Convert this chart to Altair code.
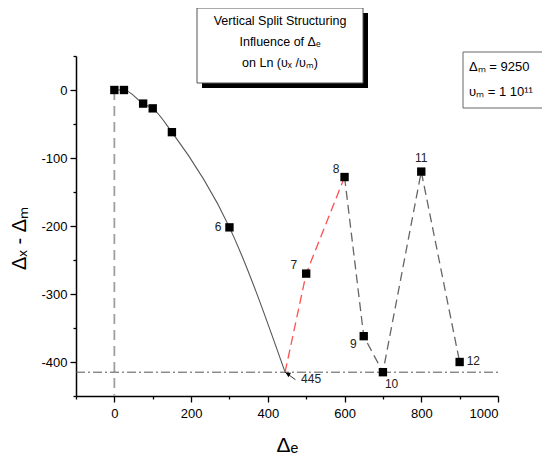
import altair as alt
import pandas as pd

FONT = "Liberation Sans"

# ---- data ----
delta_e = [0, 25, 75, 100, 150, 300, 500, 600, 650, 700, 800, 900]
diff = [0, 0, -20, -27, -62, -202, -270, -128, -362, -415, -120, -400]
point_labels = ["", "", "", "", "", "6", "7", "8", "9", "10", "11", "12"]

curve_x = [0, 25, 75, 100, 150, 300, 445]
curve_y = [0, 0, -20, -27, -62, -202, -415]
red_x = [445, 500, 600]
red_y = [-415, -270, -128]
gray_x = [600, 650, 700, 800, 900]
gray_y = [-128, -362, -415, -120, -400]

min_x = 445
min_y = -415
min_label = "445"
arrow_x = [445, 472]
arrow_y = [-415, -426]

x_ticks = list(range(-100, 1001, 100))
y_ticks = list(range(-450, 51, 50))

title_lines = ["Vertical Split Structuring", "Influence of Δₑ", "on Ln (υₓ /υₘ)"]
info_lines = ["Δₘ = 9250", "υₘ = 1 10¹¹"]

# ---- scales & axes ----
xs = alt.Scale(domain=[-100, 1000], nice=False, zero=False)
ys = alt.Scale(domain=[-450, 50], nice=False, zero=False)

x_axis = alt.Axis(
    values=x_ticks,
    labelExpr="datum.value % 200 === 0 ? '' + datum.value : ''",
    tickSize={"expr": "datum.value % 200 === 0 ? 6 : 3"},
    grid=False, domainColor="black", domainWidth=1.5,
    tickColor="black", tickWidth=1.3,
    labelFont=FONT, labelFontSize=13, labelColor="black", labelPadding=5,
    titleFont=FONT, titleFontSize=21, titleFontWeight="normal", titleColor="black",
    titlePadding=14,
)
y_axis = alt.Axis(
    values=y_ticks,
    labelExpr="datum.value % 100 === 0 ? '' + datum.value : ''",
    tickSize={"expr": "datum.value % 100 === 0 ? 6 : 3"},
    grid=False, domainColor="black", domainWidth=1.5,
    tickColor="black", tickWidth=1.3,
    labelFont=FONT, labelFontSize=13, labelColor="black", labelPadding=3,
    titleFont=FONT, titleFontSize=20, titleFontWeight="normal", titleColor="black",
    titleX=-47, titleY=182,
)

X = alt.X("x:Q", scale=xs, axis=x_axis, title="Δₑ")
Y = alt.Y("y:Q", scale=ys, axis=y_axis, title="Δₓ - Δₘ")

pts = pd.DataFrame({"x": delta_e, "y": diff, "label": point_labels})

vline = alt.Chart(pd.DataFrame({"x": [0, 0], "y": [0, -450]})).mark_line(
    color="#a0a0a0", strokeDash=[10, 6], strokeWidth=1.8
).encode(x=X, y=Y)

hline = alt.Chart(pd.DataFrame({"x": [-100, 1000], "y": [min_y, min_y]})).mark_line(
    color="#555555", strokeDash=[9, 3, 2, 3], strokeWidth=1
).encode(x=X, y=Y)

curve = alt.Chart(pd.DataFrame({"x": curve_x, "y": curve_y})).mark_line(
    color="#555555", strokeWidth=1.1, interpolate="monotone"
).encode(x=X, y=Y)

red = alt.Chart(pd.DataFrame({"x": red_x, "y": red_y})).mark_line(
    color="#ff5050", strokeDash=[9, 5], strokeWidth=1.3
).encode(x=X, y=Y)

gray = alt.Chart(pd.DataFrame({"x": gray_x, "y": gray_y})).mark_line(
    color="#666666", strokeDash=[9, 5], strokeWidth=1.3
).encode(x=X, y=Y)

squares = alt.Chart(pts).mark_square(size=70, color="black", opacity=1).encode(x=X, y=Y)

arrow = alt.Chart(pd.DataFrame({"x": arrow_x, "y": arrow_y})).mark_line(
    color="#333333", strokeWidth=1
).encode(x=X, y=Y)
arrow_head = alt.Chart(pd.DataFrame({"x": [452], "y": [-417.5]})).mark_point(
    shape="triangle-up", filled=True, color="black", size=28, angle=300, opacity=1
).encode(x=X, y=Y)

label_style = {
    "6": dict(dx=-8, dy=0, align="right"),
    "7": dict(dx=-9, dy=-9, align="right"),
    "8": dict(dx=-5, dy=-8, align="right"),
    "9": dict(dx=-7, dy=8, align="right"),
    "10": dict(dx=2, dy=12, align="left"),
    "11": dict(dx=0, dy=-14, align="center"),
    "12": dict(dx=7, dy=-1, align="left"),
}
label_layers = []
for lab, st in label_style.items():
    sub = pts[pts["label"] == lab]
    label_layers.append(
        alt.Chart(sub).mark_text(
            font=FONT, fontSize=12, color="#222222", baseline="middle", **st
        ).encode(x=X, y=Y, text="label:N")
    )
label_layers.append(
    alt.Chart(pd.DataFrame({"x": [min_x], "y": [min_y], "label": [min_label]})).mark_text(
        font=FONT, fontSize=12, color="#222222", baseline="middle", align="left", dx=16, dy=7
    ).encode(x=X, y=Y, text="label:N")
)

one = pd.DataFrame({"k": [0]})
shadow = alt.Chart(one).mark_rect(color="black").encode(
    x=alt.value(126), x2=alt.value(292), y=alt.value(-43), y2=alt.value(32)
)
box = alt.Chart(one).mark_rect(fill="white", stroke="#555555", strokeWidth=1).encode(
    x=alt.value(121), x2=alt.value(287), y=alt.value(-48), y2=alt.value(27)
)
title_layers = []
for i, t in enumerate(title_lines):
    title_layers.append(
        alt.Chart(one).mark_text(font=FONT, fontSize=12.5, color="black", align="center",
                                 baseline="middle", text=t).encode(
            x=alt.value(204), y=alt.value(-35 + 21 * i)
        )
    )
info_box = alt.Chart(one).mark_rect(fill="white", stroke="#666666", strokeWidth=1).encode(
    x=alt.value(387), x2=alt.value(467), y=alt.value(-4), y2=alt.value(52)
)
info_layers = []
for i, t in enumerate(info_lines):
    info_layers.append(
        alt.Chart(one).mark_text(font=FONT, fontSize=13, color="black", align="left",
                                 baseline="middle", text=t).encode(
            x=alt.value(393), y=alt.value(11 + 25 * i)
        )
    )

chart = alt.layer(
    vline, hline, curve, red, gray, arrow, squares, arrow_head,
    *label_layers, shadow, box, *title_layers, info_box, *info_layers
).properties(
    width=422, height=340,
    padding={"left": 68, "top": 48, "right": 44, "bottom": 62},
    autosize=alt.AutoSizeParams(type="none"),
    background="white",
).configure_view(stroke=None)

chart.save("out.html", embed_options={"renderer": "svg", "actions": False})
